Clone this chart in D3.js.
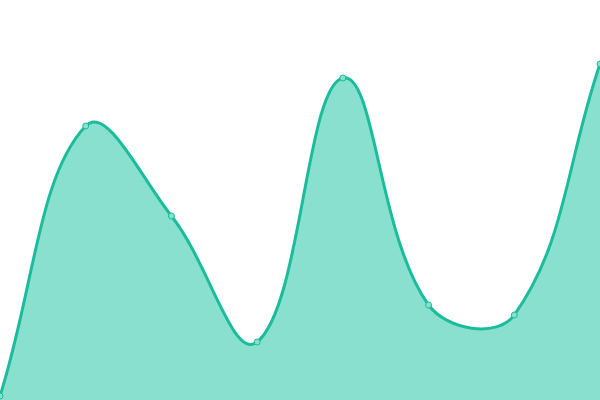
<!DOCTYPE html>
<html>
<head>
<meta charset="utf-8">
<script src="https://cdn.jsdelivr.net/npm/d3@7"></script>
<style>
  html, body { margin: 0; padding: 0; background: #fff; }
  svg { display: block; }
</style>
</head>
<body>
<svg id="chart" width="600" height="400"></svg>
<script>
// one value per slot (y units, 0 at the bottom edge)
const categories = [0, 1, 2, 3, 4, 5, 6, 7];
const values = [4, 274, 184, 58, 322, 95, 85, 336];

const width = 600;
const height = 400;

const x = d3.scaleLinear().domain([0, categories.length - 1]).range([0, width]);
const y = d3.scaleLinear().domain([0, 400]).range([height, 0]);

const data = categories.map((c, i) => ({ c, v: values[i] }));

// spline with distance-weighted control points (tension 0.4), control
// points kept inside the plot box
function splineCurve(context) {
  return new Spline(context, 0.4);
}

function Spline(context, t) {
  this._context = context;
  this._t = t;
}

Spline.prototype = {
  areaStart() { this._line = 0; },
  areaEnd() { this._line = NaN; },
  lineStart() { this._pts = []; },
  point(px, py) { this._pts.push([+px, +py]); },
  lineEnd() {
    const p = this._pts, n = p.length, t = this._t, ctx = this._context;
    if (n) {
      const cps = p.map((cur, i) => {
        const prev = p[i - 1] || cur, next = p[i + 1] || cur;
        const d01 = Math.hypot(cur[0] - prev[0], cur[1] - prev[1]);
        const d12 = Math.hypot(next[0] - cur[0], next[1] - cur[1]);
        let s01 = d01 / (d01 + d12), s12 = d12 / (d01 + d12);
        s01 = isNaN(s01) ? 0 : s01;
        s12 = isNaN(s12) ? 0 : s12;
        const fa = t * s01, fb = t * s12;
        const cap = (a, b) => [Math.max(0, Math.min(width, a)), Math.max(0, Math.min(height, b))];
        return {
          prev: cap(cur[0] - fa * (next[0] - prev[0]), cur[1] - fa * (next[1] - prev[1])),
          next: cap(cur[0] + fb * (next[0] - prev[0]), cur[1] + fb * (next[1] - prev[1]))
        };
      });
      if (this._line) ctx.lineTo(p[0][0], p[0][1]);
      else ctx.moveTo(p[0][0], p[0][1]);
      for (let i = 1; i < n; i++) {
        const a = cps[i - 1].next, b = cps[i].prev;
        ctx.bezierCurveTo(a[0], a[1], b[0], b[1], p[i][0], p[i][1]);
      }
    }
    if (this._line || (this._line !== 0 && n === 1)) ctx.closePath();
    this._line = 1 - this._line;
  }
};

const svg = d3.select("#chart");

const area = d3.area()
  .x(d => x(d.c))
  .y0(height)
  .y1(d => y(d.v))
  .curve(splineCurve);

const line = d3.line()
  .x(d => x(d.c))
  .y(d => y(d.v))
  .curve(splineCurve);

svg.append("path")
  .datum(data)
  .attr("d", area)
  .attr("fill", "#8ae0cf");

svg.append("path")
  .datum(data)
  .attr("d", line)
  .attr("fill", "none")
  .attr("stroke", "#1abc9c")
  .attr("stroke-width", 3);

svg.selectAll("circle")
  .data(data)
  .join("circle")
  .attr("cx", d => x(d.c))
  .attr("cy", d => y(d.v))
  .attr("r", 3)
  .attr("fill", "#8ae0cf")
  .attr("stroke", "#1abc9c")
  .attr("stroke-width", 1);
</script>
</body>
</html>
